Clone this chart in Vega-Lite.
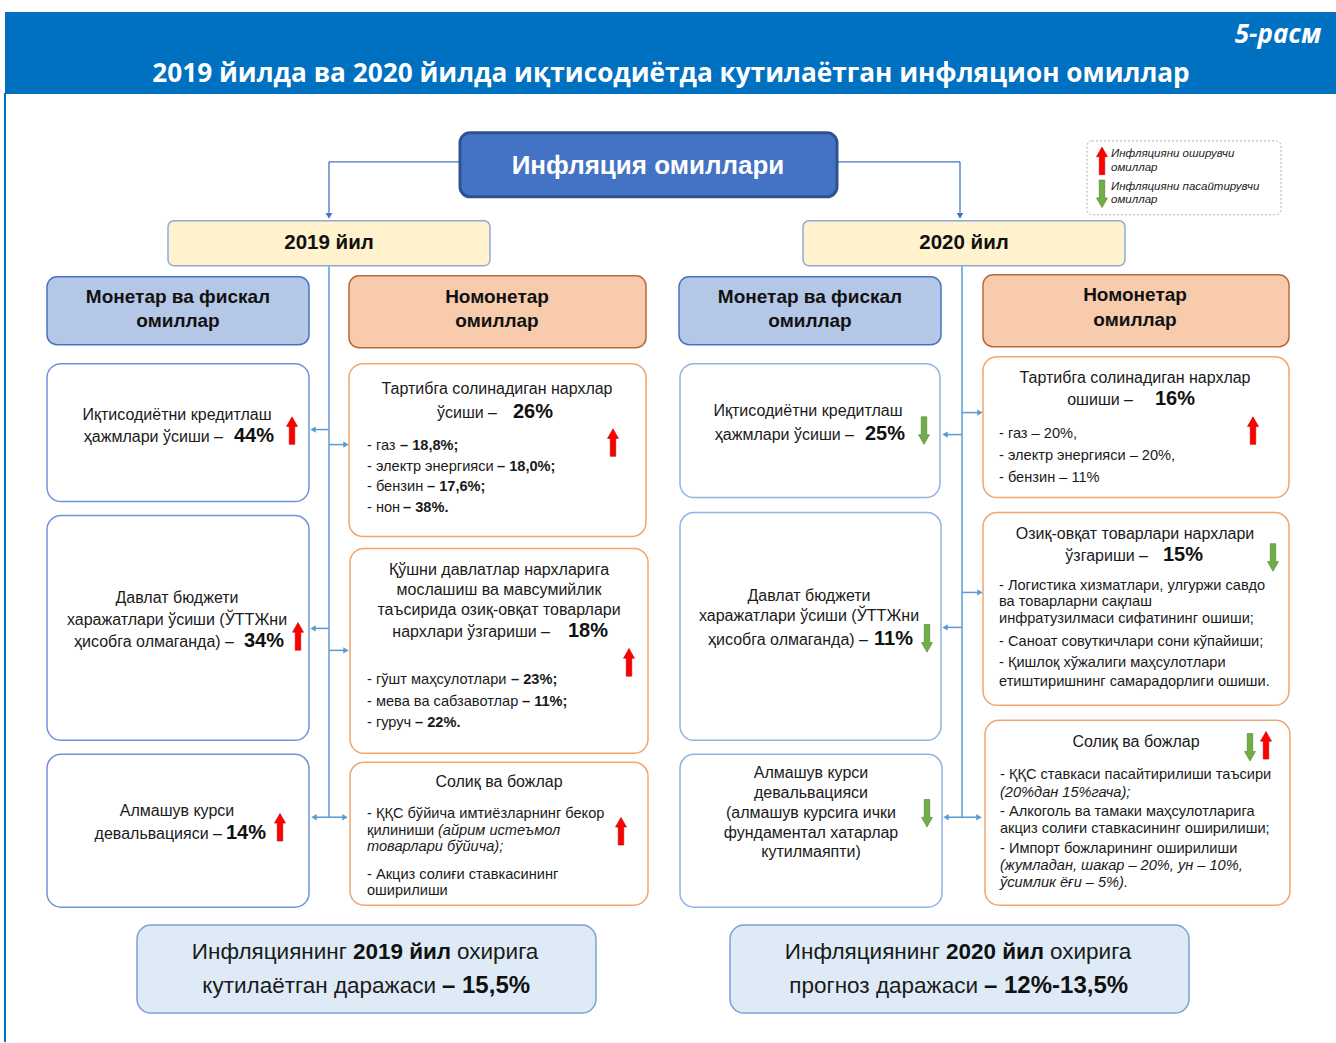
{
"$schema": "https://vega.github.io/schema/vega-lite/v6.json",
"width": 1336, "height": 1043,
"autosize": {"type": "fit", "contains": "padding"},
"padding": 0,
"background": "white",
"config": {"view": {"stroke": null}},
"datasets": {
"band": [{"x": 5, "x2": 1336, "y": 12, "y2": 94}],
"border": [{"x": 5, "x2": 5, "y": 93, "y2": 1043}],
"boxes": [
{"kind": "main", "x": 460, "x2": 837, "y": 133, "y2": 197},
{"kind": "year", "x": 168, "x2": 490, "y": 221, "y2": 266},
{"kind": "year", "x": 803, "x2": 1125, "y": 221, "y2": 266},
{"kind": "catm", "x": 47, "x2": 309, "y": 277, "y2": 345},
{"kind": "catm", "x": 679, "x2": 941, "y": 277, "y2": 345},
{"kind": "catn", "x": 349, "x2": 646, "y": 276, "y2": 348},
{"kind": "catn", "x": 983, "x2": 1289, "y": 275, "y2": 347},
{"kind": "mon19", "x": 47, "x2": 309, "y": 364, "y2": 502},
{"kind": "mon19", "x": 47, "x2": 309, "y": 516, "y2": 741},
{"kind": "mon19", "x": 47, "x2": 309, "y": 755, "y2": 908},
{"kind": "mon20", "x": 680, "x2": 940, "y": 364, "y2": 498},
{"kind": "mon20", "x": 680, "x2": 941, "y": 513, "y2": 741},
{"kind": "mon20", "x": 680, "x2": 942, "y": 755, "y2": 908},
{"kind": "non", "x": 349, "x2": 646, "y": 364, "y2": 537},
{"kind": "non", "x": 350, "x2": 648, "y": 549, "y2": 754},
{"kind": "non", "x": 350, "x2": 648, "y": 763, "y2": 906},
{"kind": "non", "x": 983, "x2": 1289, "y": 357, "y2": 498},
{"kind": "non", "x": 983, "x2": 1289, "y": 513, "y2": 706},
{"kind": "non", "x": 985, "x2": 1290, "y": 721, "y2": 906},
{"kind": "bottom", "x": 137, "x2": 596, "y": 926, "y2": 1014},
{"kind": "bottom", "x": 730, "x2": 1189, "y": 926, "y2": 1014},
{"kind": "legend", "x": 1087, "x2": 1281, "y": 141, "y2": 215}
],
"lines_top": [
{"x": 460, "y": 162, "x2": 329, "y2": 162},
{"x": 329, "y": 162, "x2": 329, "y2": 213},
{"x": 837, "y": 162, "x2": 960, "y2": 162},
{"x": 960, "y": 162, "x2": 960, "y2": 213}
],
"heads_top": [{"x": 329, "y": 216}, {"x": 960, "y": 216}],
"lines_in": [
{"x": 329, "y": 266, "x2": 329, "y2": 818},
{"x": 329, "y": 430, "x2": 315, "y2": 430},
{"x": 329, "y": 445, "x2": 344, "y2": 445},
{"x": 329, "y": 629, "x2": 315, "y2": 629},
{"x": 329, "y": 651, "x2": 344, "y2": 651},
{"x": 314, "y": 818, "x2": 345, "y2": 818},
{"x": 962, "y": 266, "x2": 962, "y2": 818},
{"x": 962, "y": 413, "x2": 978, "y2": 413},
{"x": 962, "y": 435, "x2": 946, "y2": 435},
{"x": 962, "y": 593, "x2": 978, "y2": 593},
{"x": 962, "y": 628, "x2": 946, "y2": 628},
{"x": 946, "y": 818, "x2": 979, "y2": 818}
],
"heads_in": [
{"dir": "left", "x": 313, "y": 430}, {"dir": "left", "x": 313, "y": 629}, {"dir": "left", "x": 314, "y": 818},
{"dir": "left", "x": 945, "y": 435}, {"dir": "left", "x": 945, "y": 628}, {"dir": "left", "x": 946, "y": 818},
{"dir": "right", "x": 346, "y": 445}, {"dir": "right", "x": 346, "y": 651}, {"dir": "right", "x": 345, "y": 818},
{"dir": "right", "x": 980, "y": 413}, {"dir": "right", "x": 980, "y": 593}, {"dir": "right", "x": 979, "y": 818}
],
"signals": [
{"dir": "up", "x": 292, "y": 431}, {"dir": "up", "x": 298, "y": 637}, {"dir": "up", "x": 280, "y": 828},
{"dir": "up", "x": 613, "y": 443}, {"dir": "up", "x": 629, "y": 663}, {"dir": "up", "x": 621, "y": 832},
{"dir": "up", "x": 1253, "y": 431}, {"dir": "up", "x": 1266, "y": 746}, {"dir": "up", "x": 1102, "y": 161},
{"dir": "down", "x": 924, "y": 431}, {"dir": "down", "x": 927, "y": 639}, {"dir": "down", "x": 927, "y": 814},
{"dir": "down", "x": 1273, "y": 558}, {"dir": "down", "x": 1250, "y": 748}, {"dir": "down", "x": 1102, "y": 194}
],
"t_title": [{"x": 671, "y": 74, "t": "2019 йилда ва 2020 йилда иқтисодиётда кутилаётган инфляцион омиллар"}],
"t_fig": [{"x": 1321, "y": 35, "t": "5-расм"}],
"t_main": [{"x": 648, "y": 166, "t": "Инфляция омиллари"}],
"t_year": [{"x": 329, "y": 243, "t": "2019 йил"}, {"x": 964, "y": 243, "t": "2020 йил"}],
"t_cat": [
{"x": 178, "y": 297, "t": "Монетар ва фискал"}, {"x": 178, "y": 321, "t": "омиллар"},
{"x": 497, "y": 297, "t": "Номонетар"}, {"x": 497, "y": 321, "t": "омиллар"},
{"x": 810, "y": 297, "t": "Монетар ва фискал"}, {"x": 810, "y": 321, "t": "омиллар"},
{"x": 1135, "y": 295, "t": "Номонетар"}, {"x": 1135, "y": 320, "t": "омиллар"}
],
"t_c16": [
{"x": 177, "y": 415, "t": "Иқтисодиётни кредитлаш"},
{"x": 177, "y": 599, "t": "Давлат бюджети"},
{"x": 177, "y": 621, "t": "харажатлари ўсиши (ЎТТЖни"},
{"x": 177, "y": 812, "t": "Алмашув курси"},
{"x": 497, "y": 389, "t": "Тартибга солинадиган нархлар"},
{"x": 499, "y": 571, "t": "Қўшни давлатлар нархларига"},
{"x": 499, "y": 591, "t": "мослашиш ва мавсумийлик"},
{"x": 499, "y": 611, "t": "таъсирида озиқ-овқат товарлари"},
{"x": 499, "y": 783, "t": "Солиқ ва божлар"},
{"x": 808, "y": 411, "t": "Иқтисодиётни кредитлаш"},
{"x": 809, "y": 597, "t": "Давлат бюджети"},
{"x": 809, "y": 617, "t": "харажатлари ўсиши (ЎТТЖни"},
{"x": 811, "y": 774, "t": "Алмашув курси"},
{"x": 811, "y": 794, "t": "девальвацияси"},
{"x": 811, "y": 814, "t": "(алмашув курсига ички"},
{"x": 811, "y": 834, "t": "фундаментал хатарлар"},
{"x": 811, "y": 853, "t": "кутилмаяпти)"},
{"x": 1135, "y": 378, "t": "Тартибга солинадиган нархлар"},
{"x": 1135, "y": 535, "t": "Озиқ-овқат товарлари нархлари"},
{"x": 1136, "y": 743, "t": "Солиқ ва божлар"}
],
"t_r16": [
{"x": 223, "y": 437, "t": "ҳажмлари ўсиши –"},
{"x": 234, "y": 643, "t": "ҳисобга олмаганда) –"},
{"x": 222, "y": 835, "t": "девальвацияси –"},
{"x": 497, "y": 413, "t": "ўсиши –"},
{"x": 550, "y": 633, "t": "нархлари ўзгариши  –"},
{"x": 854, "y": 435, "t": "ҳажмлари ўсиши –"},
{"x": 868, "y": 641, "t": "ҳисобга олмаганда) –"},
{"x": 1133, "y": 400, "t": "ошиши –"},
{"x": 1148, "y": 557, "t": "ўзгариши –"}
],
"t_num": [
{"x": 234, "y": 436, "t": "44%"}, {"x": 244, "y": 642, "t": "34%"}, {"x": 226, "y": 834, "t": "14%"},
{"x": 513, "y": 412, "t": "26%"}, {"x": 568, "y": 632, "t": "18%"},
{"x": 865, "y": 434, "t": "25%"}, {"x": 874, "y": 640, "t": "11%"},
{"x": 1155, "y": 399, "t": "16%"}, {"x": 1163, "y": 556, "t": "15%"}
],
"t_l14": [
{"x": 367, "y": 446, "t": "- газ"}, {"x": 367, "y": 467, "t": "- электр энергияси"},
{"x": 367, "y": 487, "t": "- бензин"}, {"x": 367, "y": 508, "t": "- нон"},
{"x": 367, "y": 681, "t": "- гўшт маҳсулотлари"}, {"x": 367, "y": 703, "t": "- мева ва сабзавотлар"},
{"x": 367, "y": 724, "t": "- гуруч"},
{"x": 367, "y": 815, "t": "- ҚҚС бўйича имтиёзларнинг бекор"}, {"x": 367, "y": 832, "t": "қилиниши"},
{"x": 367, "y": 876, "t": "- Акциз солиғи ставкасининг"}, {"x": 367, "y": 892, "t": "оширилиши"},
{"x": 999, "y": 434, "t": "- газ – 20%,"}, {"x": 999, "y": 456, "t": "- электр энергияси – 20%,"},
{"x": 999, "y": 478, "t": "- бензин – 11%"},
{"x": 999, "y": 587, "t": "- Логистика хизматлари, улгуржи савдо"},
{"x": 999, "y": 603, "t": "ва товарларни сақлаш"},
{"x": 999, "y": 620, "t": "инфратузилмаси сифатининг ошиши;"},
{"x": 999, "y": 643, "t": "- Саноат совуткичлари сони кўпайиши;"},
{"x": 999, "y": 664, "t": "- Қишлоқ хўжалиги маҳсулотлари"},
{"x": 999, "y": 683, "t": "етиштиришнинг самарадорлиги ошиши."},
{"x": 1000, "y": 776, "t": "- ҚҚС ставкаси пасайтирилиши таъсири"},
{"x": 1000, "y": 813, "t": "- Алкоголь ва тамаки маҳсулотларига"},
{"x": 1000, "y": 830, "t": "акциз солиғи ставкасининг оширилиши;"},
{"x": 1000, "y": 850, "t": "- Импорт божларининг оширилиши"}
],
"t_l14b": [
{"x": 400, "y": 446, "t": "– 18,8%;"}, {"x": 497, "y": 467, "t": "– 18,0%;"},
{"x": 427, "y": 487, "t": "– 17,6%;"}, {"x": 403, "y": 508, "t": "– 38%."},
{"x": 511, "y": 681, "t": "– 23%;"}, {"x": 522, "y": 703, "t": "– 11%;"}, {"x": 415, "y": 724, "t": "– 22%."}
],
"t_l14i": [
{"x": 438, "y": 832, "t": "(айрим истеъмол"}, {"x": 367, "y": 848, "t": "товарлари бўйича);"},
{"x": 1000, "y": 794, "t": "(20%дан 15%гача);"},
{"x": 1000, "y": 867, "t": "(жумладан, шакар – 20%, ун – 10%,"},
{"x": 1000, "y": 884, "t": "ўсимлик ёғи – 5%)."}
],
"t_legend": [
{"x": 1111, "y": 154, "t": "Инфляцияни оширувчи"}, {"x": 1111, "y": 168, "t": "омиллар"},
{"x": 1111, "y": 187, "t": "Инфляцияни пасайтирувчи"}, {"x": 1111, "y": 200, "t": "омиллар"}
],
"t_bot_r": [
{"x": 347, "y": 953, "t": "Инфляциянинг"}, {"x": 436, "y": 987, "t": "кутилаётган даражаси"},
{"x": 940, "y": 953, "t": "Инфляциянинг"}, {"x": 978, "y": 987, "t": "прогноз даражаси"}
],
"t_bot_bc": [{"x": 402, "y": 953, "t": "2019 йил"}, {"x": 995, "y": 953, "t": "2020 йил"}],
"t_bot_l": [{"x": 457, "y": 953, "t": "охирига"}, {"x": 1050, "y": 953, "t": "охирига"}],
"t_bot_bl": [{"x": 442, "y": 987, "t": "– 15,5%"}, {"x": 984, "y": 987, "t": "– 12%-13,5%"}]
},
"encoding": {
"x": {"field": "x", "type": "quantitative", "scale": {"domain": [0, 1336], "nice": false, "zero": false}, "axis": null},
"y": {"field": "y", "type": "quantitative", "scale": {"domain": [0, 1043], "nice": false, "zero": false, "reverse": true}, "axis": null}
},
"layer": [
{"data": {"name": "band"}, "mark": {"type": "rect", "fill": "#0070C0"}, "encoding": {"x2": {"field": "x2"}, "y2": {"field": "y2"}}},
{"data": {"name": "border"}, "mark": {"type": "rule", "color": "#0070C0", "strokeWidth": 2}, "encoding": {"x2": {"field": "x2"}, "y2": {"field": "y2"}}},
{"data": {"name": "lines_top"}, "mark": {"type": "rule", "color": "#4472C4", "strokeWidth": 1.3}, "encoding": {"x2": {"field": "x2"}, "y2": {"field": "y2"}}},
{"data": {"name": "heads_top"}, "mark": {"type": "point", "shape": "triangle-down", "filled": true, "opacity": 1, "color": "#4472C4", "size": 45}},
{"data": {"name": "lines_in"}, "mark": {"type": "rule", "color": "#5B9BD5", "strokeWidth": 1.5}, "encoding": {"x2": {"field": "x2"}, "y2": {"field": "y2"}}},
{"data": {"name": "heads_in"}, "transform": [{"filter": "datum.dir === 'left'"}], "mark": {"type": "point", "shape": "triangle-left", "filled": true, "opacity": 1, "color": "#5B9BD5", "size": 40}},
{"data": {"name": "heads_in"}, "transform": [{"filter": "datum.dir === 'right'"}], "mark": {"type": "point", "shape": "triangle-right", "filled": true, "opacity": 1, "color": "#5B9BD5", "size": 40}},
{"data": {"name": "boxes"}, "transform": [{"filter": "datum.kind === 'main'"}], "mark": {"type": "rect", "fill": "#4472C4", "stroke": "#2F528F", "strokeWidth": 3, "cornerRadius": 10}, "encoding": {"x2": {"field": "x2"}, "y2": {"field": "y2"}}},
{"data": {"name": "boxes"}, "transform": [{"filter": "datum.kind === 'year'"}], "mark": {"type": "rect", "fill": "#FFF2CC", "stroke": "#8EAADB", "strokeWidth": 1.5, "cornerRadius": 6}, "encoding": {"x2": {"field": "x2"}, "y2": {"field": "y2"}}},
{"data": {"name": "boxes"}, "transform": [{"filter": "datum.kind === 'catm'"}], "mark": {"type": "rect", "fill": "#B4C7E7", "stroke": "#4A74C2", "strokeWidth": 1.5, "cornerRadius": 10}, "encoding": {"x2": {"field": "x2"}, "y2": {"field": "y2"}}},
{"data": {"name": "boxes"}, "transform": [{"filter": "datum.kind === 'catn'"}], "mark": {"type": "rect", "fill": "#F8CBAD", "stroke": "#B86B3A", "strokeWidth": 1.5, "cornerRadius": 10}, "encoding": {"x2": {"field": "x2"}, "y2": {"field": "y2"}}},
{"data": {"name": "boxes"}, "transform": [{"filter": "datum.kind === 'mon19'"}], "mark": {"type": "rect", "fill": "white", "stroke": "#6F94D8", "strokeWidth": 1.5, "cornerRadius": 14}, "encoding": {"x2": {"field": "x2"}, "y2": {"field": "y2"}}},
{"data": {"name": "boxes"}, "transform": [{"filter": "datum.kind === 'mon20'"}], "mark": {"type": "rect", "fill": "white", "stroke": "#8DB4E2", "strokeWidth": 1.5, "cornerRadius": 14}, "encoding": {"x2": {"field": "x2"}, "y2": {"field": "y2"}}},
{"data": {"name": "boxes"}, "transform": [{"filter": "datum.kind === 'non'"}], "mark": {"type": "rect", "fill": "white", "stroke": "#F4A46A", "strokeWidth": 1.5, "cornerRadius": 14}, "encoding": {"x2": {"field": "x2"}, "y2": {"field": "y2"}}},
{"data": {"name": "boxes"}, "transform": [{"filter": "datum.kind === 'bottom'"}], "mark": {"type": "rect", "fill": "#DEEBF7", "stroke": "#7F9FDA", "strokeWidth": 1.5, "cornerRadius": 14}, "encoding": {"x2": {"field": "x2"}, "y2": {"field": "y2"}}},
{"data": {"name": "boxes"}, "transform": [{"filter": "datum.kind === 'legend'"}], "mark": {"type": "rect", "fill": "white", "stroke": "#B0B0B0", "strokeWidth": 1, "strokeDash": [2, 2], "cornerRadius": 5}, "encoding": {"x2": {"field": "x2"}, "y2": {"field": "y2"}}},
{"data": {"name": "signals"}, "transform": [{"filter": "datum.dir === 'up'"}], "mark": {"type": "point", "shape": "M-0.2,1L0.2,1L0.2,-0.3L0.4,-0.3L0,-1L-0.4,-0.3L-0.2,-0.3Z", "filled": true, "opacity": 1, "fill": "#FF0000", "stroke": "#C00000", "strokeWidth": 0.6, "size": 760}},
{"data": {"name": "signals"}, "transform": [{"filter": "datum.dir === 'down'"}], "mark": {"type": "point", "shape": "M-0.2,-1L0.2,-1L0.2,0.3L0.4,0.3L0,1L-0.4,0.3L-0.2,0.3Z", "filled": true, "opacity": 1, "fill": "#70AD47", "stroke": "#507E32", "strokeWidth": 0.6, "size": 760}},
{"data": {"name": "t_title"}, "mark": {"type": "text", "font": "Open Sans", "fontWeight": "bold", "fontSize": 26.2, "color": "white", "align": "center", "baseline": "middle"}, "encoding": {"text": {"field": "t"}}},
{"data": {"name": "t_fig"}, "mark": {"type": "text", "font": "Open Sans", "fontWeight": "bold", "fontStyle": "italic", "fontSize": 26, "color": "white", "align": "right", "baseline": "middle"}, "encoding": {"text": {"field": "t"}}},
{"data": {"name": "t_main"}, "mark": {"type": "text", "font": "Liberation Sans", "fontWeight": "bold", "fontSize": 26, "color": "white", "align": "center", "baseline": "middle"}, "encoding": {"text": {"field": "t"}}},
{"data": {"name": "t_year"}, "mark": {"type": "text", "font": "Liberation Sans", "fontWeight": "bold", "fontSize": 20.5, "color": "#111111", "align": "center", "baseline": "middle"}, "encoding": {"text": {"field": "t"}}},
{"data": {"name": "t_cat"}, "mark": {"type": "text", "font": "Liberation Sans", "fontWeight": "bold", "fontSize": 19, "color": "#111111", "align": "center", "baseline": "middle"}, "encoding": {"text": {"field": "t"}}},
{"data": {"name": "t_c16"}, "mark": {"type": "text", "font": "Liberation Sans", "fontSize": 16, "color": "#1a1a1a", "align": "center", "baseline": "middle"}, "encoding": {"text": {"field": "t"}}},
{"data": {"name": "t_r16"}, "mark": {"type": "text", "font": "Liberation Sans", "fontSize": 16, "color": "#1a1a1a", "align": "right", "baseline": "middle"}, "encoding": {"text": {"field": "t"}}},
{"data": {"name": "t_num"}, "mark": {"type": "text", "font": "Liberation Sans", "fontWeight": "bold", "fontSize": 20, "color": "#111111", "align": "left", "baseline": "middle"}, "encoding": {"text": {"field": "t"}}},
{"data": {"name": "t_l14"}, "mark": {"type": "text", "font": "Liberation Sans", "fontSize": 14.6, "color": "#1a1a1a", "align": "left", "baseline": "middle"}, "encoding": {"text": {"field": "t"}}},
{"data": {"name": "t_l14b"}, "mark": {"type": "text", "font": "Liberation Sans", "fontWeight": "bold", "fontSize": 14.6, "color": "#1a1a1a", "align": "left", "baseline": "middle"}, "encoding": {"text": {"field": "t"}}},
{"data": {"name": "t_l14i"}, "mark": {"type": "text", "font": "Liberation Sans", "fontStyle": "italic", "fontSize": 14.6, "color": "#1a1a1a", "align": "left", "baseline": "middle"}, "encoding": {"text": {"field": "t"}}},
{"data": {"name": "t_legend"}, "mark": {"type": "text", "font": "Liberation Sans", "fontStyle": "italic", "fontSize": 11.5, "color": "#222222", "align": "left", "baseline": "middle"}, "encoding": {"text": {"field": "t"}}},
{"data": {"name": "t_bot_r"}, "mark": {"type": "text", "font": "Liberation Sans", "fontSize": 22.5, "color": "#1a1a1a", "align": "right", "baseline": "middle"}, "encoding": {"text": {"field": "t"}}},
{"data": {"name": "t_bot_bc"}, "mark": {"type": "text", "font": "Liberation Sans", "fontWeight": "bold", "fontSize": 22.5, "color": "#111111", "align": "center", "baseline": "middle"}, "encoding": {"text": {"field": "t"}}},
{"data": {"name": "t_bot_l"}, "mark": {"type": "text", "font": "Liberation Sans", "fontSize": 22.5, "color": "#1a1a1a", "align": "left", "baseline": "middle"}, "encoding": {"text": {"field": "t"}}},
{"data": {"name": "t_bot_bl"}, "mark": {"type": "text", "font": "Liberation Sans", "fontWeight": "bold", "fontSize": 24, "color": "#111111", "align": "left", "baseline": "middle"}, "encoding": {"text": {"field": "t"}}}
]
}
